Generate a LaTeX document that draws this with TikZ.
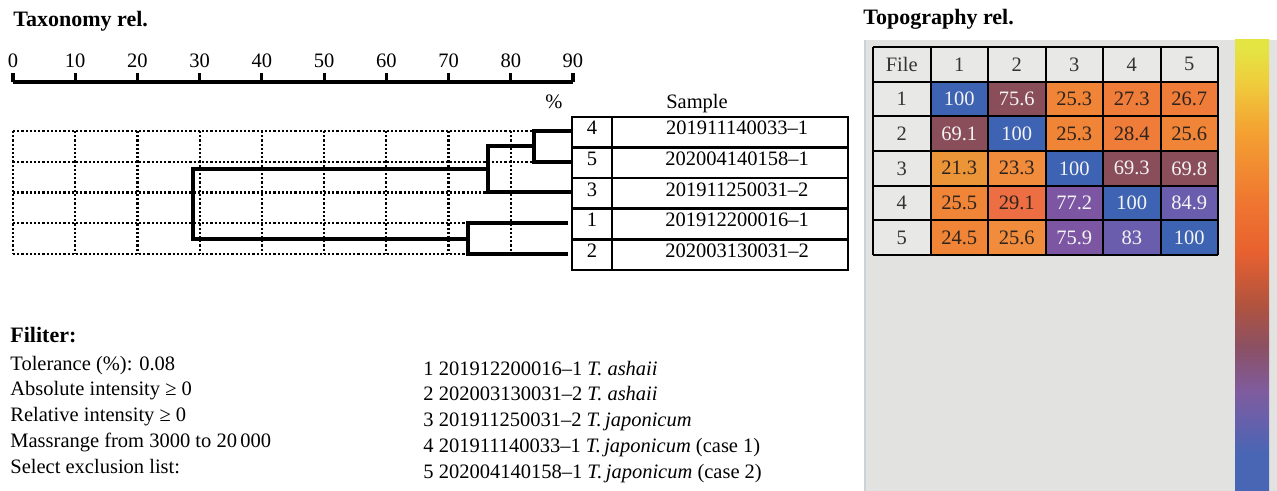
\documentclass[tikz,border=0pt]{standalone}
\usepackage{fontspec}
\setmainfont{Liberation Serif}
\usepackage{xcolor}
% Colori celle
\definecolor{celblu}{HTML}{3E63B3}
\definecolor{celmar}{HTML}{8A4D5A}
\definecolor{celvio}{HTML}{7C56A3}
\definecolor{celind}{HTML}{6A5DAE}
\definecolor{celara}{HTML}{F08437}
\definecolor{celarb}{HTML}{EF7C38}
\definecolor{celarc}{HTML}{F08C3C}
\definecolor{celoro}{HTML}{EC9538}
\definecolor{celros}{HTML}{EC6E42}
\definecolor{pannello}{HTML}{E2E3E1}
\definecolor{bordopan}{HTML}{C9D3D8}
\definecolor{intesta}{HTML}{E8E8E7}
\definecolor{scuro}{HTML}{2E241E}
\definecolor{chiaro}{HTML}{F4F4F4}
% Colori barra
\definecolor{cbA}{HTML}{4866B4}
\definecolor{cbB}{HTML}{6560AC}
\definecolor{cbC}{HTML}{7F5C9E}
\definecolor{cbD}{HTML}{8C5062}
\definecolor{cbE}{HTML}{B0533F}
\definecolor{cbF}{HTML}{E8612F}
\definecolor{cbG}{HTML}{EF7630}
\definecolor{cbH}{HTML}{F4A232}
\definecolor{cbI}{HTML}{EFCE3D}
\definecolor{cbJ}{HTML}{E4E443}
\pgfdeclareverticalshading{barra}{100bp}{color(0bp)=(cbA); color(25bp)=(cbA); color(29bp)=(cbA); color(32.5bp)=(cbB); color(36bp)=(cbC); color(41bp)=(cbD); color(45.5bp)=(cbE); color(51.5bp)=(cbF); color(57bp)=(cbG); color(65bp)=(cbH); color(70.5bp)=(cbI); color(74bp)=(cbJ); color(100bp)=(cbJ)}

\begin{document}
\begin{tikzpicture}[x=0.5pt, y=-0.5pt,
    testo/.style={font=\fontsize{10.25}{12}\selectfont, inner sep=0pt},
    titolo/.style={font=\fontsize{11}{13}\selectfont\bfseries, inner sep=0pt, anchor=base west},
    ramo/.style={line width=2pt},
    griglia/.style={line width=1.1pt, densely dotted},
    bordo/.style={line width=1.3pt},
    linea/.style={line width=1pt}]
    %Parametri
    \pgfmathsetmacro{\passo}{62.22}
    \pgfmathsetmacro{\riga}{30.6}
    \pgfmathsetmacro{\colw}{57.5}
    \pgfmathsetmacro{\rowh}{34.67}
    \useasboundingbox (0,0) rectangle (1277,491);
    % Titoli
    \node[titolo] (tax) at (13,27) {Taxonomy rel.};
    \node[titolo] (topo) at (863,25) {Topography rel.};
    % Scala
    \draw[line width=2pt] (13,82) -- (573,82);
    \foreach \k [evaluate=\k as \pc using int(10*\k)] in {0,...,9} {
        \draw[line width=1.6pt] ({13+\k*\passo},82) -- ({13+\k*\passo},73);
        \node[testo, anchor=base] (sc\k) at ({13+\k*\passo},68) {\pc};
    }
    % Griglia punteggiata
    \foreach \k in {0,...,8}
        \draw[griglia] ({13+\k*\passo},131) -- ({13+\k*\passo},254);
    \draw[griglia] (13,131) -- (534,131);
    \draw[griglia] (13,161.75) -- (534,161.75);
    \draw[griglia] (13,192.5) -- (488,192.5);
    \draw[griglia] (13,223.25) -- (468,223.25);
    \draw[griglia] (13,254) -- (468,254);
    % Dendrogramma
    \draw[ramo] (572,131) -- (534,131) -- (534,161.75) -- (572,161.75);
    \draw[ramo] (534,146.4) -- (488,146.4) -- (488,192.5) -- (572,192.5);
    \draw[ramo] (488,169.5) -- (193,169.5) -- (193,238.6) -- (468,238.6);
    \draw[ramo] (568,223.25) -- (468,223.25) -- (468,254) -- (568,254);
    % Tabella campioni
    \node[testo, anchor=base] (perc) at (554,109) {\%};
    \node[testo, anchor=base] (samp) at (697,109) {Sample};
    \draw[bordo] (572,117) rectangle (848,270);
    \draw[bordo] (612,117) -- (612,270);
    \foreach \r in {1,...,4}
        \draw[bordo] (572,{117+\r*\riga}) -- (848,{117+\r*\riga});
    \foreach \i/\n/\s in {0/4/201911140033–1, 1/5/202004140158–1, 2/3/201911250031–2, 3/1/201912200016–1, 4/2/202003130031–2} {
        \node[testo, anchor=base] (num\n) at (592,{135+\i*\riga}) {\n};
        \node[testo, anchor=base] (id\n) at (737,{135+\i*\riga}) {\s};
    }
    % Filtro
    \node[titolo] (fil) at (10,343) {Filiter:};
    \node[testo, anchor=base west] (fa) at (10,370) {Tolerance (\%): 0.08};
    \node[testo, anchor=base west] (fb) at (10,395.8) {Absolute intensity ≥ 0};
    \node[testo, anchor=base west] (fc) at (10,421.6) {Relative intensity ≥ 0};
    \node[testo, anchor=base west] (fd) at (10,447.4) {Massrange from 3000 to 20\,000};
    \node[testo, anchor=base west] (fe) at (10,473.2) {Select exclusion list:};
    % Elenco campioni
    \node[testo, anchor=base west] (la) at (423,375) {1 201912200016–1 \textit{T. ashaii}};
    \node[testo, anchor=base west] (lb) at (423,400.8) {2 202003130031–2 \textit{T. ashaii}};
    \node[testo, anchor=base west] (lc) at (423,426.6) {3 201911250031–2 \textit{T.\,japonicum}};
    \node[testo, anchor=base west] (ld) at (423,452.4) {4 201911140033–1 \textit{T.\,japonicum} (case 1)};
    \node[testo, anchor=base west] (le) at (423,478.2) {5 202004140158–1 \textit{T.\,japonicum} (case 2)};
    % Pannello mappa
    \fill[pannello] (864,40) rectangle (1277,491);
    \draw[bordopan, line width=1pt] (864.5,40) -- (864.5,491);
    \shade[shading=barra] (1235,40) rectangle (1269,490);
    % Intestazioni
    \fill[intesta] (873,47) rectangle (1218,{47+\rowh});
    \fill[intesta] (873,47) rectangle ({873+\colw},255);
    \node[testo, text=black!80] (hf) at ({873+0.5*\colw},{47+0.5*\rowh}) {File};
    \foreach \k in {1,...,5} {
        \node[testo, text=black!80] (hc\k) at ({873+(\k+0.5)*\colw},{47+0.5*\rowh}) {\k};
        \node[testo, text=black!80] (hr\k) at ({873+0.5*\colw},{47+(\k+0.5)*\rowh}) {\k};
    }
    % Celle
    \foreach \r/\c/\col/\tc/\v in {
        1/1/celblu/chiaro/100, 1/2/celmar/chiaro/75.6, 1/3/celara/scuro/25.3, 1/4/celarb/scuro/27.3, 1/5/celarb/scuro/26.7,
        2/1/celmar/chiaro/69.1, 2/2/celblu/chiaro/100, 2/3/celara/scuro/25.3, 2/4/celarb/scuro/28.4, 2/5/celara/scuro/25.6,
        3/1/celoro/scuro/21.3, 3/2/celarc/scuro/23.3, 3/3/celblu/chiaro/100, 3/4/celmar/chiaro/69.3, 3/5/celmar/chiaro/69.8,
        4/1/celara/scuro/25.5, 4/2/celros/scuro/29.1, 4/3/celvio/chiaro/77.2, 4/4/celblu/chiaro/100, 4/5/celind/chiaro/84.9,
        5/1/celara/scuro/24.5, 5/2/celarc/scuro/25.6, 5/3/celvio/chiaro/75.9, 5/4/celind/chiaro/83, 5/5/celblu/chiaro/100} {
        \fill[\col] ({873+\c*\colw},{47+\r*\rowh}) rectangle ({873+(\c+1)*\colw},{47+(\r+1)*\rowh});
        \node[testo, text=\tc] (v\r\c) at ({873+(\c+0.5)*\colw},{47+(\r+0.5)*\rowh}) {\v};
    }
    % Griglia mappa
    \foreach \k in {0,...,6} {
        \draw[linea] ({873+\k*\colw},47) -- ({873+\k*\colw},255);
        \draw[linea] (873,{47+\k*\rowh}) -- (1218,{47+\k*\rowh});
    }
\end{tikzpicture}
\end{document}
